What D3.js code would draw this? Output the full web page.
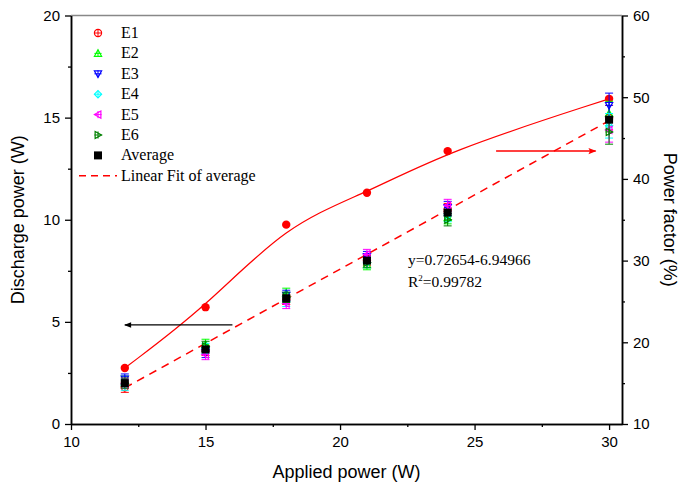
<!DOCTYPE html>
<html><head><meta charset="utf-8">
<script src="https://cdn.jsdelivr.net/npm/d3@7"></script>
<style>body{margin:0;background:#fff}</style>
</head><body>
<svg id="c" width="683" height="490"></svg>
<script>
const appliedPower = [12, 15, 18, 21, 24, 30];
const E1 = [1.8, 3.6, 6.1, 8.0, 10.5, 15.0];
const E2 = [2.1, 3.9, 6.4, 7.8, 10.1, 15.2];
const E3 = [2.2, 3.5, 6.3, 8.2, 10.6, 15.6];
const E4 = [1.9, 3.7, 6.0, 7.9, 10.2, 14.6];
const E5 = [2.0, 3.4, 5.9, 8.3, 10.7, 14.4];
const E6 = [2.0, 3.8, 6.2, 7.9, 10.0, 14.3];
const errE = [0.25, 0.25, 0.25, 0.25, 0.3, 0.6];
const average = [2.0, 3.65, 6.15, 8.0, 10.35, 14.9];
const powerFactor = [16.85, 24.3, 34.4, 38.3, 43.4, 49.8];
const fitSlope = 0.72654, fitIntercept = -6.94966;
const xTicks = [10, 15, 20, 25, 30];
const yLeftTicks = [0, 5, 10, 15, 20];
const yRightTicks = [10, 20, 30, 40, 50, 60];

const svg = d3.select("#c");
const L = 71, R = 622, T = 15.5, B = 424;
const x = d3.scaleLinear().domain([10, 30.48]).range([L, R]);
const yL = d3.scaleLinear().domain([0, 20]).range([B, T]);
const yR = d3.scaleLinear().domain([10, 60]).range([B, T]);
const font = "Liberation Sans, Arial, sans-serif";
const serif = "Liberation Serif, Times New Roman, serif";

// frame top
svg.append("line").attr("x1", L).attr("x2", R).attr("y1", T).attr("y2", T).attr("stroke", "#888").attr("stroke-width", 1.5);

// axes
function drawAxis(g, axis) { g.call(axis); g.selectAll("path.domain").attr("stroke", "#000").attr("stroke-width", 1.5); g.selectAll(".tick line").attr("stroke", "#000").attr("stroke-width", 1.3); }
const minorX = d3.range(12.5, 30.1, 5);
svg.append("g").attr("transform", `translate(0,${B})`).call(g => drawAxis(g, d3.axisBottom(x).tickValues(minorX).tickFormat("").tickSize(3).tickSizeOuter(0)));
const gx = svg.append("g").attr("transform", `translate(0,${B})`);
drawAxis(gx, d3.axisBottom(x).tickValues(xTicks).tickSize(6).tickSizeOuter(0).tickPadding(6));
gx.selectAll("text").attr("font-family", font).attr("font-size", 15).attr("fill", "#000");

svg.append("g").attr("transform", `translate(${L},0)`).call(g => drawAxis(g, d3.axisLeft(yL).tickValues([2.5, 7.5, 12.5, 17.5]).tickFormat("").tickSize(3).tickSizeOuter(0)));
const gyl = svg.append("g").attr("transform", `translate(${L},0)`);
drawAxis(gyl, d3.axisLeft(yL).tickValues(yLeftTicks).tickSize(6).tickSizeOuter(0).tickPadding(5));
gyl.selectAll("text").attr("font-family", font).attr("font-size", 15).attr("fill", "#000");

svg.append("g").attr("transform", `translate(${R},0)`).call(g => drawAxis(g, d3.axisRight(yR).tickValues([15, 25, 35, 45, 55]).tickFormat("").tickSize(3).tickSizeOuter(0)));
const gyr = svg.append("g").attr("transform", `translate(${R},0)`);
drawAxis(gyr, d3.axisRight(yR).tickValues(yRightTicks).tickSize(6).tickSizeOuter(0).tickPadding(5));
gyr.selectAll("text").attr("font-family", font).attr("font-size", 15).attr("fill", "#000");

// axis titles
svg.append("text").attr("x", (L + R) / 2).attr("y", 478).attr("text-anchor", "middle").attr("font-family", font).attr("font-size", 18).text("Applied power (W)");
svg.append("text").attr("transform", `translate(24,${(T + B) / 2}) rotate(-90)`).attr("text-anchor", "middle").attr("font-family", font).attr("font-size", 18).text("Discharge power (W)");
svg.append("text").attr("transform", `translate(664,${(T + B) / 2}) rotate(90)`).attr("text-anchor", "middle").attr("font-family", font).attr("font-size", 18).text("Power factor (%)");

// power factor curve
svg.append("path").datum(appliedPower.map((v, i) => [v, powerFactor[i]]))
  .attr("d", d3.line().x(d => x(d[0])).y(d => yR(d[1])).curve(d3.curveBasis))
  .attr("fill", "none").attr("stroke", "#f00").attr("stroke-width", 1.2);
svg.selectAll(".pf").data(appliedPower).enter().append("circle")
  .attr("cx", d => x(d)).attr("cy", (d, i) => yR(powerFactor[i])).attr("r", 4.2).attr("fill", "#f00");

// linear fit
svg.append("line").attr("x1", x(12)).attr("x2", x(30))
  .attr("y1", yL(fitSlope * 12 + fitIntercept)).attr("y2", yL(fitSlope * 30 + fitIntercept))
  .attr("stroke", "#f00").attr("stroke-width", 1.5).attr("stroke-dasharray", "8,6");

// symbols
function sym(kind, s) {
  const r = s;
  switch (kind) {
    case "circle": return `M${r},0A${r},${r} 0 1,1 ${-r},0A${r},${r} 0 1,1 ${r},0Z`;
    case "up": return `M0,${-r}L${r},${r * 0.8}L${-r},${r * 0.8}Z`;
    case "down": return `M0,${r}L${r},${-r * 0.8}L${-r},${-r * 0.8}Z`;
    case "diamond": return `M0,${-r}L${r},0L0,${r}L${-r},0Z`;
    case "left": return `M${-r},0L${r * 0.8},${-r}L${r * 0.8},${r}Z`;
    case "right": return `M${r},0L${-r * 0.8},${-r}L${-r * 0.8},${r}Z`;
  }
}
const series = [
  { name: "E1", vals: E1, color: "#ff0000", kind: "circle" },
  { name: "E2", vals: E2, color: "#00ff00", kind: "up" },
  { name: "E3", vals: E3, color: "#0000ff", kind: "down" },
  { name: "E4", vals: E4, color: "#00ffff", kind: "diamond" },
  { name: "E5", vals: E5, color: "#ff00ff", kind: "left" },
  { name: "E6", vals: E6, color: "#008000", kind: "right" }
];
function drawMarker(g, s, cx, cy) {
  const m = g.append("g").attr("transform", `translate(${cx},${cy})`);
  m.append("path").attr("d", sym(s.kind, 3.6)).attr("fill", "none").attr("stroke", s.color).attr("stroke-width", 1.2);
  m.append("path").attr("d", "M-3.6,0H3.6M0,-3.6V3.6").attr("stroke", s.color).attr("stroke-width", 1);
}
const gs = svg.append("g");
series.forEach(s => {
  appliedPower.forEach((p, i) => {
    const cx = x(p), v = s.vals[i], e = errE[i];
    gs.append("path").attr("d", `M${cx},${yL(v - e)}V${yL(v + e)}M${cx - 4},${yL(v - e)}H${cx + 4}M${cx - 4},${yL(v + e)}H${cx + 4}`)
      .attr("stroke", s.color).attr("stroke-width", 1).attr("fill", "none");
    drawMarker(gs, s, cx, yL(v));
  });
});
svg.selectAll(".avg").data(appliedPower).enter().append("rect")
  .attr("x", d => x(d) - 4).attr("y", (d, i) => yL(average[i]) - 4).attr("width", 8).attr("height", 8).attr("fill", "#000");

// arrows
const defs = svg.append("defs");
defs.append("marker").attr("id", "ab").attr("viewBox", "0 0 10 10").attr("refX", 9).attr("refY", 5)
  .attr("markerWidth", 9).attr("markerHeight", 7).attr("markerUnits", "userSpaceOnUse").attr("orient", "auto")
  .append("path").attr("d", "M0,1L10,5L0,9Z").attr("fill", "#000");
defs.append("marker").attr("id", "ar").attr("viewBox", "0 0 10 10").attr("refX", 9).attr("refY", 5)
  .attr("markerWidth", 12).attr("markerHeight", 8).attr("markerUnits", "userSpaceOnUse").attr("orient", "auto")
  .append("path").attr("d", "M0,1L10,5L0,9L2,5Z").attr("fill", "#f00");
svg.append("line").attr("x1", x(16.0)).attr("x2", x(12.0)).attr("y1", yL(4.85)).attr("y2", yL(4.85))
  .attr("stroke", "#000").attr("stroke-width", 1.2).attr("marker-end", "url(#ab)");
svg.append("line").attr("x1", x(25.8)).attr("x2", x(29.5)).attr("y1", yR(43.4)).attr("y2", yR(43.4))
  .attr("stroke", "#f00").attr("stroke-width", 1.5).attr("marker-end", "url(#ar)");

// equation
svg.append("text").attr("x", 408).attr("y", 265).attr("font-family", serif).attr("font-size", 15.5).text("y=0.72654-6.94966");
const r2 = svg.append("text").attr("x", 408).attr("y", 287).attr("font-family", serif).attr("font-size", 15.5);
r2.append("tspan").text("R");
r2.append("tspan").attr("dy", -6).attr("font-size", 9).text("2");
r2.append("tspan").attr("dy", 6).text("=0.99782");

// legend
const lg = svg.append("g");
const ly0 = 33, ldy = 20.4, lsx = 98, ltx = 121;
series.forEach((s, i) => {
  drawMarker(lg, s, lsx, ly0 + i * ldy);
  lg.append("text").attr("x", ltx).attr("y", ly0 + i * ldy + 5).attr("font-family", serif).attr("font-size", 16).text(s.name);
});
lg.append("rect").attr("x", lsx - 4).attr("y", ly0 + 6 * ldy - 4).attr("width", 8).attr("height", 8).attr("fill", "#000");
lg.append("text").attr("x", ltx).attr("y", ly0 + 6 * ldy + 5).attr("font-family", serif).attr("font-size", 16).text("Average");
lg.append("line").attr("x1", 79).attr("x2", 117).attr("y1", ly0 + 7 * ldy).attr("y2", ly0 + 7 * ldy)
  .attr("stroke", "#f00").attr("stroke-width", 1.5).attr("stroke-dasharray", "7,5");
lg.append("text").attr("x", ltx).attr("y", ly0 + 7 * ldy + 5).attr("font-family", serif).attr("font-size", 16).text("Linear Fit of average");
</script>
</body></html>
